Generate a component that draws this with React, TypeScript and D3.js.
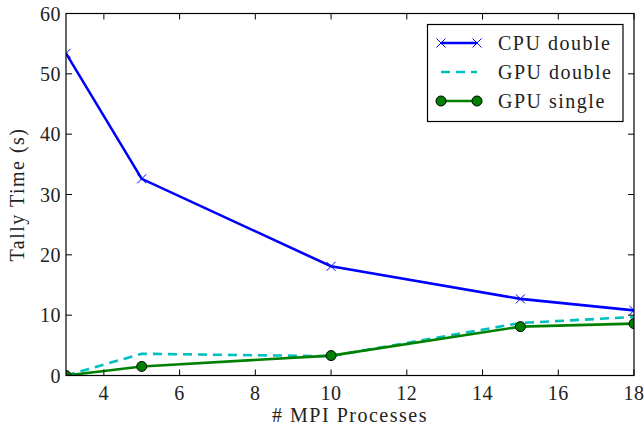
import React from 'react'
import * as d3 from 'd3'

// MPI process counts and tally times (s)
const procs = [3, 5, 10, 15, 18]
const cpuDouble = [53.4, 32.6, 18.1, 12.7, 10.8]
const gpuDouble = [0.0, 3.6, 3.2, 8.7, 9.7]
const gpuSingle = [0.0, 1.5, 3.3, 8.1, 8.6]

const xTicks = [4, 6, 8, 10, 12, 14, 16, 18]
const yTicks = [0, 10, 20, 30, 40, 50, 60]

const W = 644
const H = 428
const margin = {top: 13.5, right: 10, bottom: 52.5, left: 66}
const font = '"Liberation Serif", "DejaVu Serif", serif'

export default function App() {
    const x = d3.scaleLinear().domain([3, 18]).range([margin.left, W - margin.right])
    const y = d3.scaleLinear().domain([0, 60]).range([H - margin.bottom, margin.top])
    const x0 = x.range()[0], x1 = x.range()[1]
    const y0 = y.range()[0], y1 = y.range()[1]

    const line = d3.line<number>()
        .x((d, i) => x(procs[i]))
        .y(d => y(d))

    const series = [
        {name: 'CPU double', data: cpuDouble, color: '#0000ff', dash: undefined, marker: 'x'},
        {name: 'GPU double', data: gpuDouble, color: '#00bfbf', dash: '9,6', marker: 'none'},
        {name: 'GPU single', data: gpuSingle, color: '#008000', dash: undefined, marker: 'o'},
    ]

    const drawMarker = (kind: string, cx: number, cy: number, color: string, key: any) => {
        if (kind === 'x') {
            const s = 4.5
            return (
                <path key={key} d={`M${cx - s},${cy - s}L${cx + s},${cy + s}M${cx - s},${cy + s}L${cx + s},${cy - s}`}
                    stroke={color} strokeWidth={1} fill="none" />
            )
        }
        if (kind === 'o') {
            return <circle key={key} cx={cx} cy={cy} r={5} fill={color} stroke="#000" strokeWidth={1} />
        }
        return null
    }

    const legX = 427.5, legY = 24.5, legW = 195.5, legH = 97
    const rowY = [43, 72, 101]

    return (
        <svg width={W} height={H} style={{position: 'absolute', left: 0, top: 0}} fontFamily={font}>
            <rect x={0} y={0} width={W} height={H} fill="#fff" />
            <defs>
                <clipPath id="plot">
                    <rect x={x0} y={y1} width={x1 - x0} height={y0 - y1} />
                </clipPath>
            </defs>

            <g clipPath="url(#plot)">
                {series.map(s => (
                    <g key={s.name}>
                        <path d={line(s.data) || ''} fill="none" stroke={s.color} strokeWidth={2.6}
                            strokeDasharray={s.dash} />
                        {s.data.map((v, i) => drawMarker(s.marker, x(procs[i]), y(v), s.color, i))}
                    </g>
                ))}
            </g>

            {/* frame */}
            <rect x={x0} y={y1} width={x1 - x0} height={y0 - y1} fill="none" stroke="#000" strokeWidth={1.2} />

            {/* x ticks */}
            {xTicks.map(t => (
                <g key={'x' + t}>
                    <line x1={x(t)} x2={x(t)} y1={y0} y2={y0 - 6} stroke="#000" />
                    <line x1={x(t)} x2={x(t)} y1={y1} y2={y1 + 6} stroke="#000" />
                    <text x={x(t)} y={y0 + 24} fontSize={20} textAnchor="middle" fill="#222"
                        letterSpacing={0.5}>{t}</text>
                </g>
            ))}
            {/* y ticks */}
            {yTicks.map(t => (
                <g key={'y' + t}>
                    <line x1={x0} x2={x0 + 6} y1={y(t)} y2={y(t)} stroke="#000" />
                    <line x1={x1} x2={x1 - 6} y1={y(t)} y2={y(t)} stroke="#000" />
                    <text x={x0 - 5} y={y(t)} dy="0.35em" fontSize={20} textAnchor="end" fill="#222"
                        letterSpacing={0.5}>{t}</text>
                </g>
            ))}

            <text x={(x0 + x1) / 2} y={H - 6} fontSize={20} textAnchor="middle" fill="#222"
                letterSpacing={1.5}># MPI Processes</text>
            <text transform={`translate(24,${(y0 + y1) / 2}) rotate(-90)`} fontSize={20} textAnchor="middle"
                fill="#222" letterSpacing={1.5}>Tally Time (s)</text>

            {/* legend */}
            <rect x={legX} y={legY} width={legW} height={legH} fill="#fff" stroke="#000" strokeWidth={1.2} />
            {series.map((s, i) => (
                <g key={'leg' + i}>
                    <line x1={441} x2={477} y1={rowY[i]} y2={rowY[i]} stroke={s.color} strokeWidth={2.6}
                        strokeDasharray={s.dash} />
                    {drawMarker(s.marker, 441, rowY[i], s.color, 'a')}
                    {drawMarker(s.marker, 477, rowY[i], s.color, 'b')}
                    <text x={498} y={rowY[i]} dy="0.35em" fontSize={20} fill="#222"
                        letterSpacing={1.5}>{s.name}</text>
                </g>
            ))}
        </svg>
    )
}
